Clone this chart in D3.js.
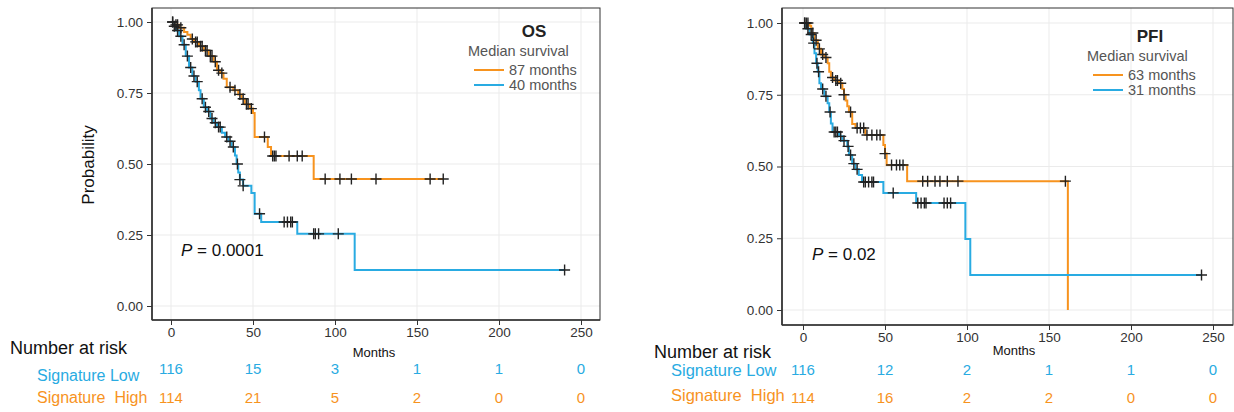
<!DOCTYPE html>
<meta charset="utf-8">
<style>
  body { margin: 0; background: #fff; }
  svg { font-family: "Liberation Sans", Arial, sans-serif; }
  .grid line { stroke: #ebebeb; stroke-width: 1px; }
  .axis text { fill: #333; font-size: 13.5px; }
  .axis path, .axis line { stroke: #333; }
</style>
<svg width="1234" height="412"></svg>
<script src="https://d3js.org/d3.v7.min.js"></script>
<script>
  var svg = d3.select("svg");

  var blue = "#29abe2",
    orange = "#f7931e";

  var xTicks = [0, 50, 100, 150, 200, 250];
  var yTicks = [0, 0.25, 0.5, 0.75, 1];

  // OS: Kaplan-Meier steps [months, survival], censor times
  var osHighSteps = [[0, 1], [2, 0.99], [5, 0.98], [8, 0.965], [10, 0.955], [12, 0.94], [14, 0.93], [17, 0.915],
    [20, 0.9], [23, 0.88], [26, 0.86], [28, 0.83], [30, 0.82], [32, 0.8], [34, 0.77], [38, 0.76], [41, 0.745],
    [43, 0.73], [45, 0.71], [48, 0.695], [50, 0.68], [51, 0.595], [59, 0.56], [61, 0.528], [87, 0.447], [166, 0.447]];
  var osHighCensor = [1, 3, 4, 6, 13, 15, 16, 18, 19, 21, 22, 24, 25, 27, 29, 31, 36, 39, 42, 44, 46, 47, 49, 57,
    62, 63, 64, 72, 77, 80, 94, 103, 110, 125, 158, 166];
  var osLowSteps = [[0, 1], [2, 0.985], [3, 0.97], [5, 0.95], [7, 0.92], [9, 0.88], [11, 0.84], [13, 0.81],
    [15, 0.79], [17, 0.76], [18, 0.73], [20, 0.7], [22, 0.685], [24, 0.66], [26, 0.645], [28, 0.63], [31, 0.61],
    [33, 0.595], [35, 0.58], [37, 0.56], [39, 0.53], [40, 0.5], [41, 0.47], [42, 0.445], [44, 0.423], [49, 0.398],
    [51, 0.325], [55, 0.296], [77, 0.254], [112, 0.127], [240, 0.127]];
  var osLowCensor = [1, 2, 4, 6, 8, 10, 12, 14, 16, 19, 21, 23, 25, 27, 29, 30, 34, 36, 38, 40.5, 42, 44, 54,
    69, 71, 73, 74, 87, 88, 90, 102, 240];
  var osRiskLow = [116, 15, 3, 1, 1, 0];
  var osRiskHigh = [114, 21, 5, 2, 0, 0];

  // PFI
  var pfiHighSteps = [[0, 1], [4, 0.99], [5, 0.965], [7, 0.94], [9, 0.91], [11, 0.89], [13, 0.88], [15, 0.86],
    [16, 0.83], [17, 0.81], [19, 0.8], [22, 0.79], [24, 0.77], [25, 0.75], [26, 0.73], [27, 0.71], [28, 0.69],
    [30, 0.648], [32, 0.634], [38, 0.61], [49, 0.575], [50, 0.545], [51, 0.505], [63.5, 0.449], [161.5, 0], [161.5, 0]];
  var pfiHighCensor = [1, 2, 3, 6, 8, 10, 12, 14, 18, 20, 21, 23, 25, 29, 33, 35, 37, 39, 42, 45, 47, 50, 54,
    57, 59, 61, 73, 76, 80.5, 83.5, 88, 94.5, 160];
  var pfiLowSteps = [[0, 1], [2, 0.98], [4, 0.96], [6, 0.93], [7, 0.895], [8, 0.86], [9, 0.83], [10, 0.79],
    [11, 0.77], [13, 0.745], [15, 0.72], [16, 0.69], [17, 0.65], [18, 0.62], [22, 0.605], [24, 0.59], [27, 0.57],
    [28, 0.54], [30, 0.51], [32, 0.49], [34, 0.47], [36, 0.446], [49, 0.408], [69, 0.373], [99, 0.247],
    [102, 0.122], [243, 0.122]];
  var pfiLowCensor = [1, 3, 5, 6.5, 8.5, 9.5, 12, 14, 16.5, 19, 20, 21, 23, 25, 27.5, 29, 31, 33, 37, 38, 40,
    42, 43, 55, 70, 72, 74, 75, 86, 88, 90, 243];
  var pfiRiskLow = [116, 12, 2, 1, 1, 0];
  var pfiRiskHigh = [114, 16, 2, 2, 0, 0];

  function survAt(steps, t) {
    var s = steps[0][1];
    steps.forEach(function(d) { if (d[0] <= t) s = d[1]; });
    return s;
  }

  function drawPanel(p) {
    var x = d3.scaleLinear().domain([0, 250]).range([p.x0, p.x250]);
    var y = d3.scaleLinear().domain([0, 1]).range([p.y0, p.y1]);
    var g = svg.append("g");

    var grid = g.append("g").attr("class", "grid");
    grid.selectAll(".gx").data(xTicks).enter().append("line")
      .attr("x1", x).attr("x2", x).attr("y1", p.top).attr("y2", p.bottom);
    grid.selectAll(".gy").data(yTicks).enter().append("line")
      .attr("x1", p.left).attr("x2", p.right).attr("y1", y).attr("y2", y);

    g.append("rect")
      .attr("x", p.left).attr("y", p.top)
      .attr("width", p.right - p.left).attr("height", p.bottom - p.top)
      .attr("fill", "none").attr("stroke", "#333").attr("stroke-width", 1);

    var line = d3.line()
      .x(function(d) { return x(d[0]); })
      .y(function(d) { return y(d[1]); })
      .curve(d3.curveStepAfter);

    p.curves.forEach(function(c) {
      g.append("path").datum(c.steps)
        .attr("d", line).attr("fill", "none")
        .attr("stroke", c.color).attr("stroke-width", 2);
    });
    p.curves.forEach(function(c) {
      var cg = g.append("g");
      c.censor.forEach(function(t) {
        var cx = x(t), cy = y(survAt(c.steps, t));
        cg.append("path")
          .attr("d", "M" + (cx - 5.5) + "," + cy + "H" + (cx + 5.5) + "M" + cx + "," + (cy - 5.5) + "V" + (cy + 5.5))
          .attr("stroke", "#222").attr("stroke-width", 1.4);
      });
    });

    var ax = g.append("g").attr("class", "axis")
      .attr("transform", "translate(0," + p.bottom + ")")
      .call(d3.axisBottom(x).tickValues(xTicks).tickSize(5).tickPadding(2).tickFormat(d3.format("d")));
    ax.select(".domain").attr("d", "M" + p.left + ",0H" + p.right).attr("stroke-width", 1.6);
    var ay = g.append("g").attr("class", "axis")
      .attr("transform", "translate(" + p.left + ",0)")
      .call(d3.axisLeft(y).tickValues(yTicks).tickSize(5).tickPadding(4).tickFormat(d3.format(".2f")));
    ay.select(".domain").attr("d", "M0," + p.top + "V" + p.bottom).attr("stroke-width", 1.6);

    g.append("text").attr("x", p.monthsX).attr("y", p.bottom + p.monthsDy)
      .attr("text-anchor", "middle").attr("font-size", 13).attr("fill", "#111").text("Months");

    // title and legend
    g.append("text").attr("x", p.titleX).attr("y", p.legY - 19)
      .attr("text-anchor", "middle").attr("font-size", 17).attr("font-weight", "bold")
      .attr("fill", "#222").text(p.title);
    g.append("text").attr("x", p.legX).attr("y", p.legY)
      .attr("font-size", 14.5).attr("fill", "#555").text("Median survival");
    p.curves.forEach(function(c, i) {
      var ly = p.legY + 14 + i * 15;
      g.append("line").attr("x1", p.legX + 6).attr("x2", p.legX + 36)
        .attr("y1", ly).attr("y2", ly).attr("stroke", c.color).attr("stroke-width", 2);
      g.append("text").attr("x", p.legX + 41).attr("y", ly + 5)
        .attr("font-size", 14.5).attr("fill", "#555").text(c.median + " months");
    });

    var pt = g.append("text").attr("x", p.pX).attr("y", p.pY)
      .attr("font-size", 17).attr("fill", "#111");
    pt.append("tspan").attr("font-style", "italic").text("P");
    pt.append("tspan").text(" = " + p.pval);

    // number at risk table
    g.append("text").attr("x", p.narX).attr("y", p.narY)
      .attr("font-size", 18).attr("fill", "#111").text("Number at risk");
    p.risk.forEach(function(r) {
      g.append("text").attr("x", p.rowLabelX).attr("y", r.labelY)
        .attr("font-size", p.rowFont).attr("fill", r.color)
        .attr("xml:space", "preserve").text(r.label);
      g.selectAll(null).data(r.values).enter().append("text")
        .attr("x", function(d, i) { return x(xTicks[i]); })
        .attr("y", r.valY)
        .attr("text-anchor", "middle").attr("font-size", 15).attr("fill", r.color)
        .text(function(d) { return d; });
    });
  }

  drawPanel({
    left: 152, right: 600, top: 8, bottom: 320,
    x0: 171, x250: 581, y0: 306, y1: 22,
    monthsX: 374, monthsDy: 37,
    title: "OS", titleX: 534, legX: 468, legY: 56,
    pX: 181, pY: 256, pval: "0.0001",
    narX: 10, narY: 354, rowLabelX: 37, rowFont: 16,
    curves: [
      { steps: osHighSteps, censor: osHighCensor, color: orange, median: 87 },
      { steps: osLowSteps, censor: osLowCensor, color: blue, median: 40 }
    ],
    risk: [
      { label: "Signature Low", values: osRiskLow, color: blue, labelY: 381, valY: 374 },
      { label: "Signature  High", values: osRiskHigh, color: orange, labelY: 403, valY: 403 }
    ]
  });

  drawPanel({
    left: 782, right: 1233, top: 8, bottom: 325,
    x0: 803, x250: 1213, y0: 310, y1: 23,
    monthsX: 1014, monthsDy: 30,
    title: "PFI", titleX: 1150, legX: 1087, legY: 61,
    pX: 812, pY: 260, pval: "0.02",
    narX: 654, narY: 358, rowLabelX: 671, rowFont: 16.5,
    curves: [
      { steps: pfiHighSteps, censor: pfiHighCensor, color: orange, median: 63 },
      { steps: pfiLowSteps, censor: pfiLowCensor, color: blue, median: 31 }
    ],
    risk: [
      { label: "Signature Low", values: pfiRiskLow, color: blue, labelY: 376, valY: 375 },
      { label: "Signature  High", values: pfiRiskHigh, color: orange, labelY: 401, valY: 403 }
    ]
  });

  // y axis title, left panel only
  svg.append("text")
    .attr("transform", "translate(94,165) rotate(-90)")
    .attr("text-anchor", "middle").attr("font-size", 17).attr("fill", "#111")
    .text("Probability");
</script>
